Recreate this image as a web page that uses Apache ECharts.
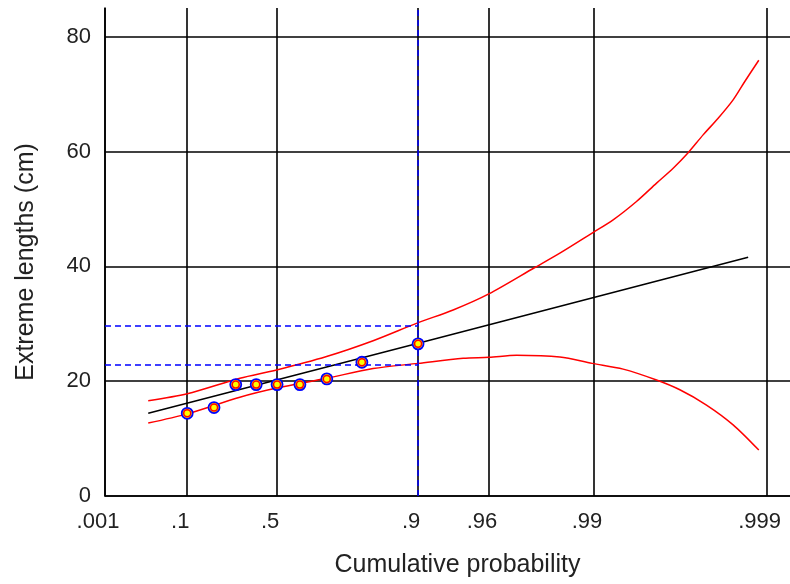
<!DOCTYPE html>
<html><head><meta charset="utf-8">
<script src="https://cdn.jsdelivr.net/npm/echarts@6/dist/echarts.min.js"></script>
<style>html,body{margin:0;padding:0;background:#fff}#c{width:790px;height:584px}</style>
</head><body><div id="c"></div><script>
// Gumbel probability paper: x positions are reduced variates -ln(-ln p)
const tickProbs = [0.001, 0.1, 0.5, 0.9, 0.96, 0.99, 0.999];
const tickLabels = ['.001', '.1', '.5', '.9', '.96', '.99', '.999'];
const yTicks = [0, 20, 40, 60, 80];

const obsProb = [0.1, 0.2, 0.3, 0.4, 0.5, 0.6, 0.7, 0.8, 0.9];
const obsLength = [14.4, 15.4, 19.4, 19.4, 19.4, 19.4, 20.4, 23.3, 26.5];

const fitReduced = [-1.355, 2.252, 6.661];
const fitLength = [14.4, 26.6, 41.6];

const upperReduced = [-1.355, -0.834, -0.131, 0.360, 1.028, 1.650, 2.252, 2.719, 3.196, 3.811, 4.145, 4.576, 4.857, 5.169, 5.437, 5.659, 5.859, 6.059, 6.260, 6.460, 6.616, 6.803];
const upperLength = [16.6, 17.8, 20.5, 21.95, 24.3, 27.05, 30.2, 32.4, 35.2, 39.8, 42.3, 45.8, 48.1, 51.3, 54.5, 57.1, 59.8, 62.9, 65.8, 69.0, 72.2, 75.9];

const lowerReduced = [-1.355, -0.834, -0.131, 0.360, 1.028, 1.650, 2.252, 2.853, 3.196, 3.566, 4.145, 4.576, 4.991, 5.437, 5.748, 6.104, 6.460, 6.803];
const lowerLength = [12.7, 14.3, 17.2, 18.8, 20.5, 22.2, 23.1, 24.0, 24.15, 24.5, 24.2, 23.1, 22.1, 20.2, 18.5, 15.85, 12.4, 8.0];

const refProb = 0.9;
const refLevels = [29.6, 22.8];

const yMin = 0, yMax = 85;
const xMaxReduced = 7.22;

function gumbel(p) { return -Math.log(-Math.log(p)); }
const xMin = gumbel(tickProbs[0]);
const tickPos = tickProbs.map(gumbel);
function zip(a, b) { return a.map((v, i) => [v, b[i]]); }

const tickFont = "'Liberation Sans Narrow', 'Arial Narrow', 'Liberation Sans', sans-serif";
const titleFont = "'Liberation Sans', Arial, sans-serif";

const series = [
  { type: 'line', data: zip(upperReduced, upperLength), symbol: 'none', smooth: 0.3, lineStyle: { color: '#ff0000', width: 1.5 }, z: 3 },
  { type: 'line', data: zip(lowerReduced, lowerLength), symbol: 'none', smooth: 0.3, lineStyle: { color: '#ff0000', width: 1.5 }, z: 3 },
  { type: 'line', data: zip(fitReduced, fitLength), symbol: 'none', lineStyle: { color: '#000000', width: 1.5 }, z: 4 },
  { type: 'line', data: [[gumbel(refProb), yMin], [gumbel(refProb), yMax]], symbol: 'none', lineStyle: { color: '#0000ff', width: 1.5, type: [6, 4] }, z: 5 }
];
refLevels.forEach(v => series.push({
  type: 'line', data: [[xMin, v], [gumbel(refProb), v]], symbol: 'none',
  lineStyle: { color: '#0000ff', width: 1.5, type: [6, 4] }, z: 5
}));
series.push({
  type: 'scatter', data: zip(obsProb.map(gumbel), obsLength), symbol: 'circle', symbolSize: 11,
  itemStyle: { color: '#ffff00', borderColor: '#0000ff', borderWidth: 1.8, opacity: 1 }, z: 6
});
series.push({
  type: 'scatter', data: zip(obsProb.map(gumbel), obsLength), symbol: 'circle', symbolSize: 7,
  itemStyle: { color: '#ffff00', borderColor: '#ff0000', borderWidth: 1.5, opacity: 1 }, z: 7
});

const chart = echarts.init(document.getElementById('c'), null, { renderer: 'canvas' });
chart.setOption({
  animation: false,
  backgroundColor: '#ffffff',
  grid: { left: 105, right: 0, top: 8, bottom: 88, containLabel: false },
  xAxis: {
    type: 'value', min: xMin, max: xMaxReduced,
    name: 'Cumulative probability', nameLocation: 'middle', nameGap: 57,
    nameTextStyle: { fontFamily: titleFont, fontSize: 25, color: '#222', padding: [0, 0, 0, 20] },
    axisLine: { show: true, onZero: false, lineStyle: { color: '#000', width: 1.6 } },
    axisTick: { show: false, customValues: tickPos },
    splitLine: { show: true, lineStyle: { color: '#000', width: 1.6 } },
    axisLabel: {
      customValues: tickPos, margin: 15, fontFamily: tickFont, fontSize: 22, color: '#222',
      padding: [0, 14, 0, 0],
      formatter: function (v) {
        let best = 0, d = Infinity;
        tickPos.forEach((t, i) => { if (Math.abs(t - v) < d) { d = Math.abs(t - v); best = i; } });
        return tickLabels[best];
      }
    }
  },
  yAxis: {
    type: 'value', min: yMin, max: yMax,
    name: 'Extreme lengths (cm)', nameLocation: 'middle', nameGap: 66,
    nameTextStyle: { fontFamily: titleFont, fontSize: 25, color: '#222', padding: [0, 20, 0, 0] },
    axisLine: { show: true, onZero: false, lineStyle: { color: '#000', width: 1.6 } },
    axisTick: { show: false, customValues: yTicks },
    splitLine: { show: true, lineStyle: { color: '#000', width: 1.6 } },
    axisLabel: { customValues: yTicks, margin: 14, fontFamily: tickFont, fontSize: 22, color: '#222' }
  },
  series: series
});
</script></body></html>
